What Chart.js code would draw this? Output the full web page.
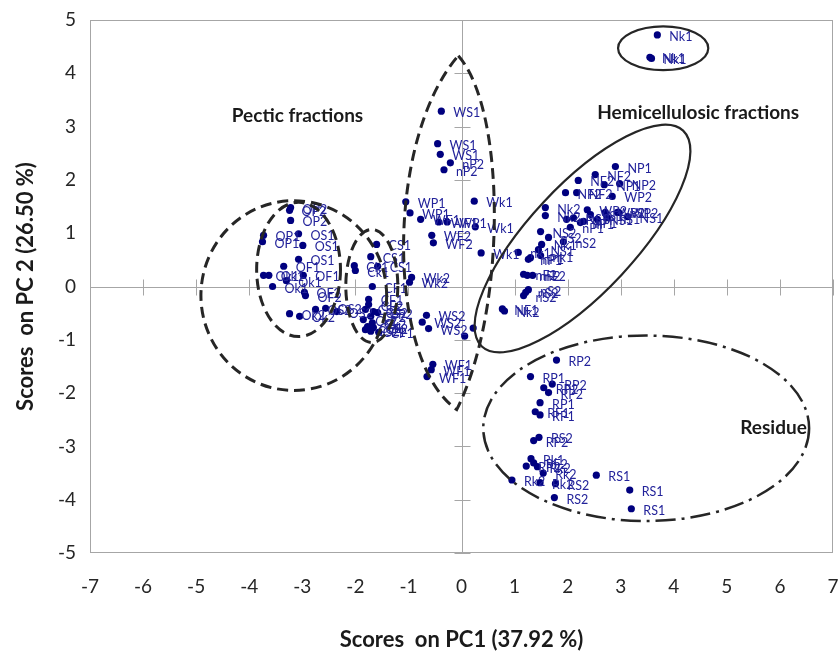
<!DOCTYPE html>
<html>
<head>
<meta charset="utf-8">
<script src="https://cdn.jsdelivr.net/npm/chart.js@4.4.0/dist/chart.umd.min.js"></script>
<style>
  html, body { margin: 0; padding: 0; background: #fff; }
</style>
</head>
<body>
<canvas id="pca" width="838" height="657"></canvas>
<script>
// scores (PC1, PC2) and the sample labels
var pecticX = [-3.22, -3.24, -3.22, -3.73, -3.75, -3.07, -2.99, -3.07, -3.35, -3.73, -3.63, -3.30, -2.98, -3.56,
  -2.96, -2.94, -3.24, -3.05, -2.75, -2.56, -2.35,
  -1.60, -1.71, -1.58, -2.02, -2.00, -1.68, -1.75, -1.75, -1.81, -1.66, -1.58, -1.71, -1.85, -1.68, -1.77, -1.66,
  -1.71, -1.56, -1.81];
var pecticY = [1.48, 1.43, 1.24, 0.96, 0.84, 0.99, 0.77, 0.51, 0.38, 0.21, 0.21, 0.11, 0.21, 0.00,
  -0.11, -0.17, -0.51, -0.56, -0.43, -0.41, -0.47,
  0.79, 0.56, 0.38, 0.39, 0.30, 0.00, -0.24, -0.34, -0.43, -0.47, -0.49, -0.56, -0.62, -0.68, -0.75, -0.77,
  -0.84, -0.86, -0.81];
var pecticLab = ['OP2', 'OP2', 'OP2', 'OP1', 'OP1', 'OS1', 'OS1', 'OS1', 'OF1', 'Ok1', 'Ok1', 'Ok1', 'OF1', 'Ok1',
  'OF2', 'OF2', 'Ok2', 'Ok2', 'OS2', 'OS2', 'OS2',
  'CS1', 'CS1', 'CS1', 'Ck1', 'Ck1', 'CF1', 'CF1', 'CF2', 'CS2', 'CS2', 'CP2', 'CP2', 'Ck2', 'Ck2', 'CP1', 'CF2',
  'CP1', 'CP1', 'CS2'];

var wallX = [-0.38, -0.45, -0.40, -0.21, -0.33, 0.24, -1.05, -0.97, -0.77, -0.43, -0.27, 0.26, -0.56, -0.53, 0.37,
  -0.94, -0.98, -0.66, -0.74, -0.62, 0.22, 0.06, -0.54, -0.57, -0.65];
var wallY = [3.29, 2.68, 2.48, 2.32, 2.19, 1.60, 1.59, 1.38, 1.26, 1.21, 1.21, 1.12, 0.96, 0.82, 0.63,
  0.17, 0.08, -0.54, -0.67, -0.79, -0.78, -0.93, -1.46, -1.56, -1.69];
var wallLab = ['WS1', 'WS1', 'WS1', 'nP2', 'nP2', 'Wk1', 'WP1', 'WP1', 'WF1', 'WF1', 'WP1', 'Wk1', 'WF2', 'WF2', 'Wk1',
  'Wk2', 'Wk2', 'WS2', 'WS2', 'WS2', '', '', 'WF1', 'WF1', 'WF1'];

var hemiX = [2.90, 2.52, 2.20, 2.69, 2.98, 1.96, 2.17, 2.84, 1.58, 1.58, 2.37, 2.96,
  1.98, 2.11, 2.24, 2.43, 2.56, 2.71, 2.75, 2.94, 3.13, 2.30,
  1.49, 1.64, 2.05, 1.92, 1.51, 1.07, 1.45, 1.49, 1.26, 1.30,
  1.17, 1.24, 1.34, 1.26, 1.21, 1.17, 0.77, 0.81,
  3.69, 3.55, 3.58];
var hemiY = [2.25, 2.10, 1.99, 1.91, 1.93, 1.76, 1.76, 1.69, 1.48, 1.33, 1.44, 1.39,
  1.26, 1.29, 1.20, 1.35, 1.26, 1.39, 1.29, 1.39, 1.31, 1.22,
  1.03, 0.92, 1.11, 0.84, 0.79, 0.64, 0.69, 0.58, 0.51, 0.54,
  0.23, 0.21, 0.21, -0.06, -0.11, -0.17, -0.42, -0.46,
  4.72, 4.30, 4.28];
var hemiLab = ['NP1', 'NF2', 'NF2', 'NP1', 'NP2', 'NF2', 'NF2', 'WP2', 'Nk2', 'Nk2', 'WP2', 'WP2',
  'nP1', 'NS1', 'nP1', 'nS1', 'NS1', 'WP2', 'nS1', 'nS1', 'NS1', 'nP1',
  'NS2', 'nS2', 'nP1', 'nS2', 'Nk1', 'nk1', 'NS1', 'nk1', 'nP1', 'nP1',
  'nF2', 'nF2', 'nF2', 'nS2', 'nS2', 'nS2', 'NF1', 'Nk2',
  'Nk1', 'Nk1', 'Nk1'];

var residueX = [1.79, 1.30, 1.71, 1.55, 1.64, 1.48, 1.39, 1.48, 1.46, 1.36, 1.31, 1.36, 1.22, 1.43, 1.54,
  2.54, 0.95, 1.48, 1.77, 3.17, 1.75, 3.20];
var residueY = [-1.38, -1.69, -1.83, -1.90, -1.99, -2.18, -2.35, -2.41, -2.83, -2.89, -3.23, -3.31, -3.37, -3.38, -3.50,
  -3.54, -3.63, -3.68, -3.70, -3.82, -3.96, -4.17];
var residueLab = ['RP2', 'RP1', 'RP2', 'RP2', 'RP2', 'RP1', 'RF1', 'RP1', 'RS2', 'RP2', 'Rk1', 'RF2', 'RP2', 'Rk2', 'Rk2',
  'RS1', 'Rk2', 'Rk2', 'RS2', 'RS1', 'RS2', 'RS1'];

var xTicks = [-7, -6, -5, -4, -3, -2, -1, 0, 1, 2, 3, 4, 5, 6, 7];
var yTicks = [-5, -4, -3, -2, -1, 0, 1, 2, 3, 4, 5];

// group outlines drawn over the scores (data units)
var outlines = [
  { type: 'ellipse', cx: -3.16, cy: -0.17, rx: 1.75, ry: 1.78, dash: [11, 6], width: 3 },
  { type: 'ellipse', cx: -3.07, cy: 0.32, rx: 0.79, ry: 1.26, dash: [11, 6], width: 3 },
  { type: 'ellipse', cx: -1.69, cy: 0.01, rx: 0.49, ry: 1.06, dash: [11, 6], width: 3 },
  { type: 'lens', top: [-0.06, 4.33], bottom: [-0.09, -2.31], right: [[0.85, 3.3], [0.85, -0.45]],
    left: [[-1.43, 2.76], [-1.43, -1.37]], dash: [11, 6], width: 3 },
  { type: 'ellipse', cx: 2.28, cy: 0.9, rx: 2.78, ry: 1.0, rot: -47, dash: [], width: 2.2 },
  { type: 'ellipse', cx: 3.48, cy: -2.66, rx: 3.07, ry: 1.74, dash: [20, 6, 3, 6], width: 2.5 },
  { type: 'ellipse', cx: 3.80, cy: 4.47, rx: 0.85, ry: 0.41, dash: [], width: 2.2 }
];
var notes = [
  { text: 'Pectic fractions', x: -3.09, y: 3.21 },
  { text: 'Hemicellulosic fractions', x: 4.46, y: 3.26 },
  { text: 'Residue', x: 5.88, y: -2.65 }
];

function pts(xs, ys) {
  return xs.map(function (x, i) { return { x: x, y: ys[i] }; });
}

var groups = [
  { data: pts(pecticX, pecticY), names: pecticLab },
  { data: pts(wallX, wallY), names: wallLab },
  { data: pts(hemiX, hemiY), names: hemiLab },
  { data: pts(residueX, residueY), names: residueLab }
];

var decor = {
  id: 'decor',
  beforeDatasetsDraw: function (chart) {
    var ctx = chart.ctx, xs = chart.scales.x, ys = chart.scales.y, a = chart.chartArea;
    ctx.save();
    ctx.strokeStyle = '#a6a6a6';
    ctx.lineWidth = 1;
    ctx.strokeRect(a.left + 0.5, a.top + 0.5, a.right - a.left - 1, a.bottom - a.top - 1);
    var x0 = Math.round(xs.getPixelForValue(0)) + 0.5, y0 = Math.round(ys.getPixelForValue(0)) + 0.5;
    ctx.beginPath();
    ctx.moveTo(a.left, y0); ctx.lineTo(a.right, y0);
    ctx.moveTo(x0, a.top); ctx.lineTo(x0, a.bottom);
    xTicks.forEach(function (v) {
      var p = Math.round(xs.getPixelForValue(v)) + 0.5;
      ctx.moveTo(p, y0 - 8); ctx.lineTo(p, y0 + 8);
    });
    yTicks.forEach(function (v) {
      var p = Math.round(ys.getPixelForValue(v)) + 0.5;
      ctx.moveTo(x0 - 8, p); ctx.lineTo(x0 + 8, p);
    });
    ctx.stroke();
    ctx.restore();
  },
  afterDatasetsDraw: function (chart) {
    var ctx = chart.ctx, xs = chart.scales.x, ys = chart.scales.y;
    var ux = Math.abs(xs.getPixelForValue(1) - xs.getPixelForValue(0));
    var uy = Math.abs(ys.getPixelForValue(1) - ys.getPixelForValue(0));
    ctx.save();
    // sample labels
    ctx.fillStyle = '#22229a';
    ctx.font = '12.5px Lato';
    ctx.textBaseline = 'middle';
    chart.data.datasets.forEach(function (ds, di) {
      chart.getDatasetMeta(di).data.forEach(function (el, i) {
        var t = groups[di].names[i];
        if (t) ctx.fillText(t, el.x + 12, el.y + 2);
      });
    });
    // outlines
    ctx.strokeStyle = '#262626';
    outlines.forEach(function (o) {
      ctx.lineWidth = o.width;
      ctx.setLineDash(o.dash);
      ctx.beginPath();
      if (o.type === 'ellipse') {
        ctx.ellipse(xs.getPixelForValue(o.cx), ys.getPixelForValue(o.cy), o.rx * ux, o.ry * uy,
          (o.rot || 0) * Math.PI / 180, 0, Math.PI * 2);
      } else {
        var P = function (p) { return [xs.getPixelForValue(p[0]), ys.getPixelForValue(p[1])]; };
        var t = P(o.top), b = P(o.bottom), r1 = P(o.right[0]), r2 = P(o.right[1]);
        var l1 = P(o.left[0]), l2 = P(o.left[1]);
        ctx.moveTo(t[0], t[1]);
        ctx.bezierCurveTo(r1[0], r1[1], r2[0], r2[1], b[0], b[1]);
        ctx.bezierCurveTo(l2[0], l2[1], l1[0], l1[1], t[0], t[1]);
      }
      ctx.stroke();
    });
    ctx.setLineDash([]);
    // group names
    ctx.fillStyle = '#1a1a1a';
    ctx.font = 'bold 19px Lato';
    ctx.textAlign = 'center';
    notes.forEach(function (n) {
      ctx.fillText(n.text, xs.getPixelForValue(n.x), ys.getPixelForValue(n.y));
    });
    // axis titles
    ctx.font = 'bold 22px Lato';
    ctx.fillText('Scores  on PC1 (37.92 %)', xs.getPixelForValue(0), 640);
    ctx.translate(26, ys.getPixelForValue(0));
    ctx.rotate(-Math.PI / 2);
    ctx.fillText('Scores  on PC 2 (26.50 %)', 0, 0);
    ctx.restore();
  }
};

var tickFont = { family: 'Lato', size: 19 };

new Chart(document.getElementById('pca').getContext('2d'), {
  type: 'scatter',
  data: {
    datasets: groups.map(function (g) {
      return {
        data: g.data,
        pointRadius: 3.6,
        pointHoverRadius: 3.6,
        backgroundColor: '#00007f',
        borderColor: '#00007f',
        borderWidth: 0
      };
    })
  },
  options: {
    responsive: false,
    animation: false,
    layout: { padding: { top: 20, right: 5, left: 0, bottom: 0 } },
    plugins: { legend: { display: false }, tooltip: { enabled: false } },
    scales: {
      x: {
        type: 'linear', min: -7, max: 7,
        grid: { display: false, drawTicks: false },
        border: { display: false },
        ticks: { stepSize: 1, padding: 22, color: '#262626', font: tickFont, maxRotation: 0 },
        afterFit: function (s) { s.height = 104; s.paddingLeft = 0; s.paddingRight = 0; }
      },
      y: {
        type: 'linear', min: -5, max: 5,
        grid: { display: false, drawTicks: false },
        border: { display: false },
        ticks: { stepSize: 1, padding: 14, color: '#262626', font: tickFont },
        afterFit: function (s) { s.width = 90; s.paddingTop = 0; s.paddingBottom = 0; }
      }
    }
  },
  plugins: [decor]
});
</script>
</body>
</html>
